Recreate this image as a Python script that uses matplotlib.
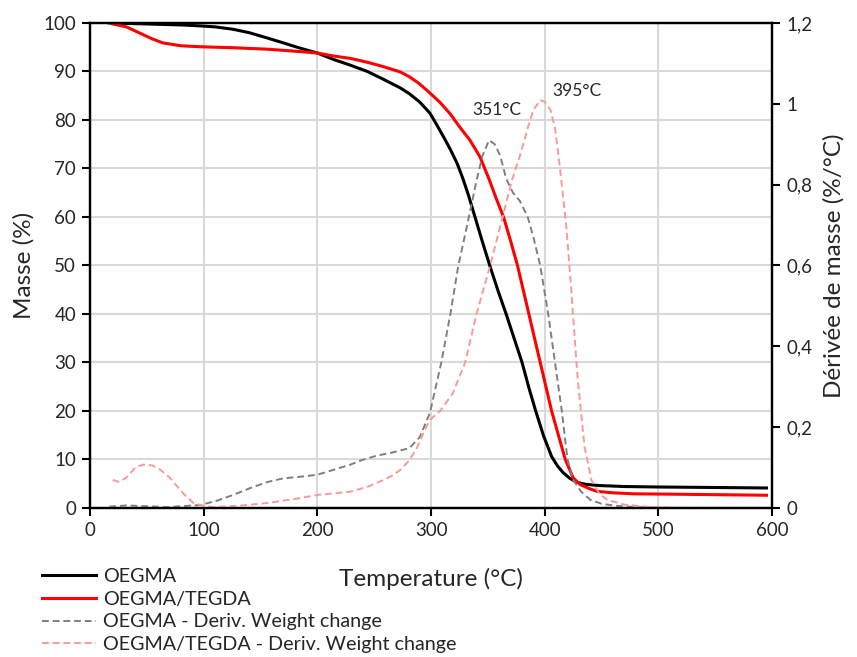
import matplotlib
matplotlib.use("Agg")
import matplotlib.pyplot as plt
from matplotlib.ticker import FuncFormatter

plt.rcParams['font.family'] = ['Lato', 'DejaVu Sans']

# Mass curves (left axis, %)
temp_oegma = [17, 50, 80, 97, 110, 126, 140, 156, 170, 185, 200, 214, 229, 244, 258, 273, 281, 290,
              299, 305, 311, 317, 323, 328, 333, 339, 345, 352, 359, 366, 373, 380, 386, 392, 399,
              406, 411, 416, 422, 428, 436, 448, 470, 501, 550, 595]
mass_oegma = [100, 99.8, 99.6, 99.4, 99.2, 98.7, 98.0, 96.9, 95.9, 94.8, 93.8, 92.5, 91.3, 90.0, 88.4,
              86.6, 85.4, 83.7, 81.4, 79.0, 76.5, 73.9, 71.0, 67.9, 64.4, 59.7, 55.0, 49.7, 44.7,
              40.0, 35.0, 30.0, 24.8, 20.0, 14.8, 10.6, 8.7, 7.3, 6.1, 5.3, 4.85, 4.6, 4.4, 4.3,
              4.2, 4.1]

temp_tegda = [20, 32, 44, 54, 64, 80, 97, 126, 156, 185, 200, 214, 229, 244, 258, 273, 281, 289, 296,
              302, 308, 317, 325, 334, 343, 351, 357, 364, 370, 376, 381, 386, 391, 396, 401, 406,
              412, 418, 425, 431, 440, 446, 460, 478, 520, 560, 595]
mass_tegda = [99.8, 99.2, 97.9, 96.8, 95.9, 95.3, 95.1, 94.9, 94.6, 94.1, 93.8, 93.2, 92.7, 91.9, 91.0,
              89.9, 88.9, 87.6, 86.2, 84.9, 83.6, 81.2, 78.6, 75.9, 72.4, 67.8, 64.0, 59.8, 55.0, 50.0,
              45.0, 40.0, 35.0, 30.0, 25.0, 20.0, 15.0, 10.0, 6.2, 4.8, 3.9, 3.4, 3.1, 2.9, 2.8, 2.7,
              2.6]

# Derivative curves (right axis, %/°C)
temp_d_oegma = [17, 32, 50, 68, 97, 112, 126, 141, 156, 170, 185, 200, 214, 229, 240, 252, 266, 281,
                290, 299, 309, 317, 324, 331, 340, 345, 351, 356, 361, 366, 372, 378, 385, 390, 396,
                403, 409, 415, 420, 425, 432, 440, 450, 463, 480, 510, 550, 595]
d_oegma = [0.003, 0.006, 0.004, 0.002, 0.007, 0.018, 0.032, 0.049, 0.064, 0.073, 0.077, 0.082, 0.094,
           0.107, 0.119, 0.129, 0.137, 0.148, 0.175, 0.235, 0.36, 0.48, 0.6, 0.69, 0.81, 0.87, 0.91,
           0.9, 0.87, 0.815, 0.78, 0.76, 0.72, 0.67, 0.6, 0.48, 0.36, 0.24, 0.12, 0.069, 0.04,
           0.02, 0.01, 0.005, 0.002, 0, 0, 0]

temp_d_tegda = [20, 26, 32, 40, 47, 55, 62, 70, 77, 84, 91, 100, 108, 130, 156, 180, 200, 229, 245,
                258, 266, 273, 280, 287, 294, 299, 308, 319, 330, 340, 352, 363, 371, 378, 385, 390,
                396, 400, 405, 409, 413, 419, 423, 429, 435, 441, 448, 455, 470, 493, 530, 595]
d_tegda = [0.069, 0.064, 0.075, 0.1, 0.107, 0.105, 0.094, 0.075, 0.052, 0.03, 0.012, 0.005, 0.002,
           0.005, 0.012, 0.022, 0.032, 0.04, 0.053, 0.069, 0.08, 0.094, 0.115, 0.145, 0.19, 0.218,
           0.24, 0.283, 0.36, 0.48, 0.6, 0.72, 0.81, 0.87, 0.94, 0.985, 1.009, 1.005, 0.985, 0.94,
           0.85, 0.695, 0.55, 0.317, 0.151, 0.069, 0.035, 0.02, 0.008, 0.002, 0, 0]

labels = ["OEGMA", "OEGMA/TEGDA", "OEGMA - Deriv. Weight change", "OEGMA/TEGDA - Deriv. Weight change"]
peaks = [("351°C", 336, 82), ("395°C", 407, 86)]

fig = plt.figure(figsize=(8.57, 6.57), dpi=100)
ax = fig.add_axes([0.105, 0.227, 0.796, 0.738])
ax2 = ax.twinx()

l1, = ax.plot(temp_oegma, mass_oegma, color='black', lw=2.2, label=labels[0])
l2, = ax.plot(temp_tegda, mass_tegda, color='#ff0000', lw=2.2, label=labels[1])
l3, = ax2.plot(temp_d_oegma, d_oegma, color='#7f7f7f', lw=1.4, ls=(0, (3.5, 2)), label=labels[2])
l4, = ax2.plot(temp_d_tegda, d_tegda, color='#f79a9a', lw=1.4, ls=(0, (3.5, 2)), label=labels[3])

for txt, x, y in peaks:
    ax.text(x, y, txt, fontsize=12.5, ha='left', va='center', color='#262626')

ax.set_xlim(0, 600)
ax.set_ylim(0, 100)
ax2.set_ylim(0, 1.2)
ax.set_xticks(range(0, 601, 100))
ax.set_yticks(range(0, 101, 10))
ax2.set_yticks([0, 0.2, 0.4, 0.6, 0.8, 1.0, 1.2])
ax2.yaxis.set_major_formatter(FuncFormatter(lambda v, p: f"{v:g}".replace('.', ',')))

ax.grid(True, color='#d9d9d9', lw=1.5)
ax.set_axisbelow(True)
for a in (ax, ax2):
    for s in a.spines.values():
        s.set_linewidth(1.6)
        s.set_color('black')
    a.tick_params(direction='out', length=6, width=1.5, labelsize=13.5, colors='black',
                  labelcolor='#262626', pad=4)

ax.set_xlabel("Temperature (°C)", fontsize=17.5, color='#262626', labelpad=21)
ax.set_ylabel("Masse (%)", fontsize=17.5, color='#262626', labelpad=6)
ax2.set_ylabel("Dérivée de masse (%/°C)", fontsize=17.5, color='#262626', labelpad=8)

fig.legend(handles=[l1, l2, l3, l4], loc='upper left', bbox_to_anchor=(0.049, 0.136),
           frameon=False, fontsize=14.2, handlelength=2.75, handletextpad=0.35, labelspacing=0.3,
           borderpad=0, borderaxespad=0, labelcolor='#262626')

fig.savefig("out.png", dpi=100)
